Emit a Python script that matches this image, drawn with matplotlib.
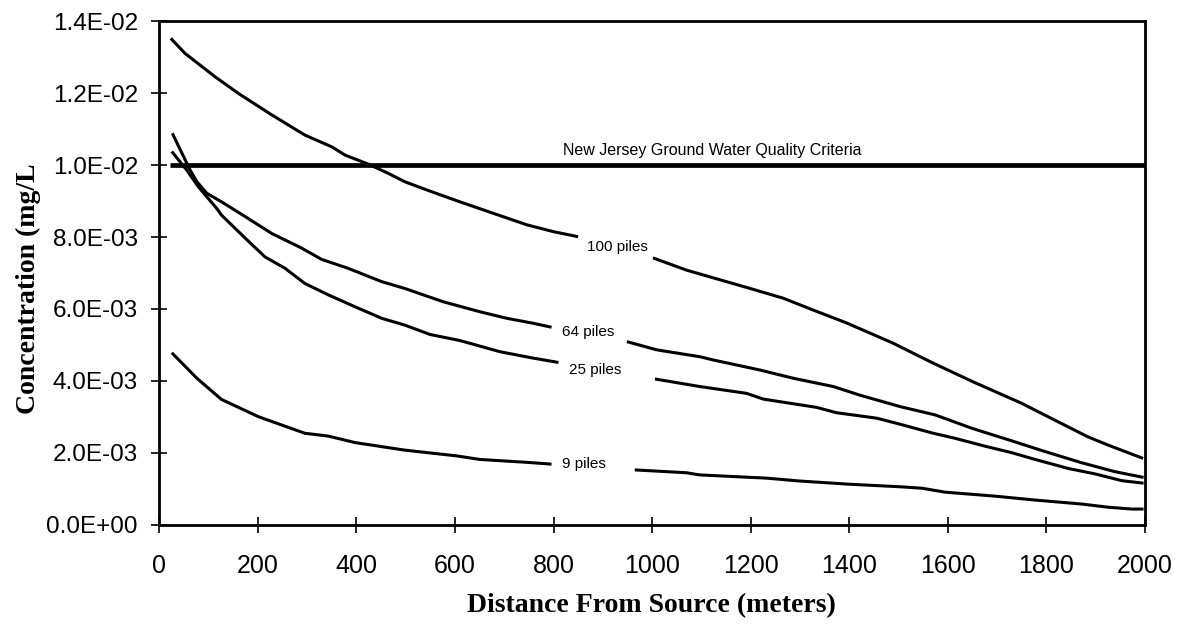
import numpy as np
import matplotlib
matplotlib.use("Agg")
import matplotlib.pyplot as plt

# distance (m) and concentration (mg/L) for each pile count, split where the label sits
dist_100 = [23, 52, 113, 160, 228, 295, 350, 377, 424, 465, 498, 549, 610, 678, 746, 800, 850,
            1002, 1070, 1199, 1266, 1327, 1395, 1489, 1571, 1652, 1751, 1804, 1885, 1926, 1997]
conc_100 = [0.01353, 0.01311, 0.01246, 0.01200, 0.01140, 0.01084, 0.01051, 0.01028, 0.01003,
            0.00977, 0.00954, 0.00928, 0.00898, 0.00866, 0.00834, 0.00815, 0.00801,
            0.00742, 0.00708, 0.00657, 0.00630, 0.00597, 0.00561, 0.00505, 0.00449, 0.00397,
            0.00337, 0.00300, 0.00244, 0.00221, 0.00184]

dist_64 = [26, 62, 76, 96, 126, 174, 228, 289, 329, 383, 451, 498, 576, 651, 705, 759, 796,
           949, 1010, 1097, 1124, 1219, 1287, 1368, 1422, 1504, 1575, 1649, 1730, 1798, 1872,
           1940, 1998]
conc_64 = [0.01089, 0.00987, 0.00954, 0.00922, 0.00898, 0.00857, 0.00810, 0.00769, 0.00738,
           0.00713, 0.00676, 0.00657, 0.00620, 0.00592, 0.00574, 0.00560, 0.00549,
           0.00509, 0.00486, 0.00467, 0.00458, 0.00430, 0.00407, 0.00384, 0.00360, 0.00328,
           0.00305, 0.00268, 0.00233, 0.00203, 0.00172, 0.00147, 0.00131]

dist_25 = [25, 55, 79, 116, 126, 174, 214, 255, 295, 343, 397, 451, 498, 549, 610, 691, 759, 810,
           1006, 1097, 1192, 1226, 1334, 1375, 1456, 1504, 1568, 1615, 1676, 1730, 1778, 1845,
           1899, 1954, 1998]
conc_25 = [0.01038, 0.00987, 0.00940, 0.00880, 0.00861, 0.00797, 0.00745, 0.00713, 0.00671,
           0.00639, 0.00606, 0.00574, 0.00555, 0.00529, 0.00512, 0.00481, 0.00463, 0.00451,
           0.00405, 0.00384, 0.00365, 0.00349, 0.00326, 0.00311, 0.00296, 0.00279, 0.00255,
           0.00240, 0.00218, 0.00200, 0.00181, 0.00156, 0.00141, 0.00122, 0.00115]

dist_9 = [25, 76, 126, 201, 295, 343, 397, 498, 603, 651, 746, 796,
          965, 1070, 1097, 1233, 1300, 1402, 1504, 1548, 1595, 1696, 1778, 1872, 1927, 1974, 1998]
conc_9 = [0.00478, 0.00407, 0.00348, 0.00300, 0.00254, 0.00246, 0.00228, 0.00207, 0.00191,
          0.00181, 0.00173, 0.00168,
          0.00152, 0.00144, 0.00138, 0.00129, 0.00121, 0.00112, 0.00105, 0.00101, 0.00090,
          0.00079, 0.00068, 0.00057, 0.00048, 0.00043, 0.00043]

series_names = ["100 piles", "64 piles", "25 piles", "9 piles"]
# where each name is written (distance, concentration)
label_pos = [(929, 0.00773), (870, 0.00537), (884, 0.00430), (861, 0.00168)]

criteria = 0.01
criteria_start = 21
criteria_text = "New Jersey Ground Water Quality Criteria"

y_ticks = [0.0, 0.002, 0.004, 0.006, 0.008, 0.010, 0.012, 0.014]
y_tick_labels = ["0.0E+00", "2.0E-03", "4.0E-03", "6.0E-03", "8.0E-03", "1.0E-02", "1.2E-02", "1.4E-02"]
x_ticks = list(range(0, 2001, 200))

fig = plt.figure(figsize=(11.83, 6.28), dpi=100)
ax = fig.add_axes([0.1348, 0.1648, 0.8327, 0.801])

all_dist = [dist_100, dist_64, dist_25, dist_9]
all_conc = [conc_100, conc_64, conc_25, conc_9]
for d, c, (lx, ly), name in zip(all_dist, all_conc, label_pos, series_names):
    d = np.array(d)
    c = np.array(c)
    left = d < lx
    ax.plot(d[left], c[left], color="black", lw=2.2, solid_capstyle="butt")
    ax.plot(d[~left], c[~left], color="black", lw=2.2, solid_capstyle="butt")
    ax.text(lx, ly, name, ha="center", va="center", fontsize=11, family="Liberation Sans")

ax.plot([criteria_start, 2000], [criteria, criteria], color="black", lw=3.4, solid_capstyle="butt")
ax.text(1122, criteria + 0.00042, criteria_text, ha="center", va="center",
        fontsize=11.5, family="Liberation Sans")

ax.set_xlim(0, 2000)
ax.set_ylim(0, 0.014)
ax.set_xticks(x_ticks)
ax.set_xticklabels([str(t) for t in x_ticks], fontsize=18, family="Liberation Sans")
ax.set_yticks(y_ticks)
ax.set_yticklabels(y_tick_labels, fontsize=17.5, family="Liberation Sans")
ax.tick_params(axis="x", direction="inout", length=11, width=1.2, pad=16)
ax.tick_params(axis="y", direction="inout", length=11, width=1.2, pad=10)
for s in ax.spines.values():
    s.set_linewidth(2)

fig.text(0.551, 0.035, "Distance From Source (meters)", ha="center", va="center",
         fontsize=20, fontweight="bold", family="Liberation Serif")
fig.text(0.024, 0.54, "Concentration (mg/L", ha="center", va="center", rotation=90,
         fontsize=20, fontweight="bold", family="Liberation Serif")

fig.savefig("out.png", dpi=100)
